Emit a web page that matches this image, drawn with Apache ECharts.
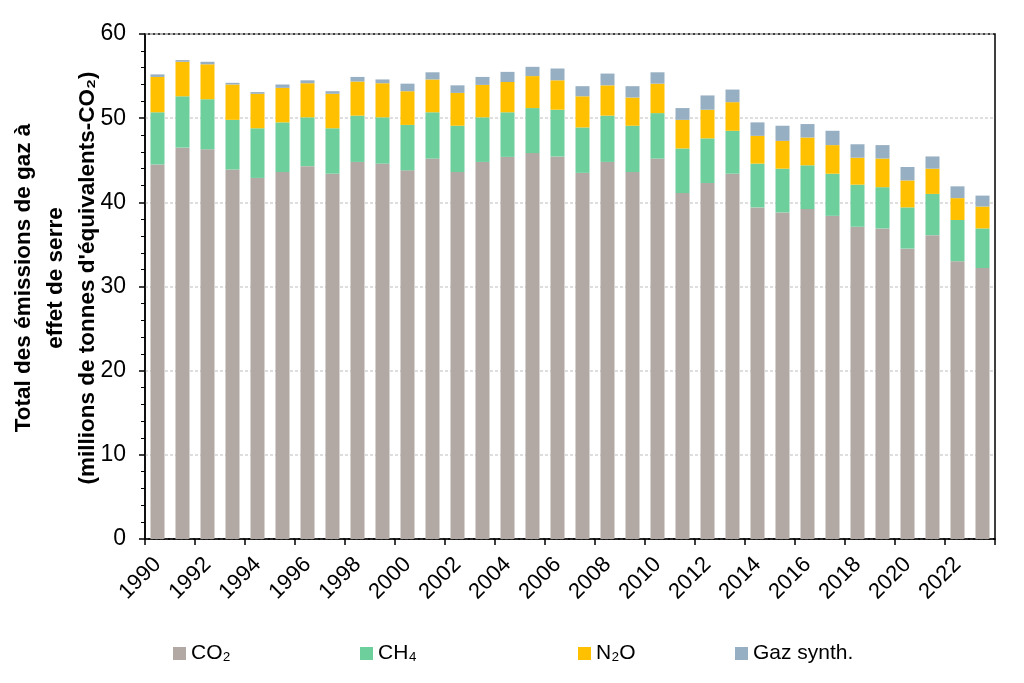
<!DOCTYPE html>
<html>
<head>
<meta charset="utf-8">
<script src="https://cdn.jsdelivr.net/npm/echarts@6/dist/echarts.min.js"></script>
<style>html,body{margin:0;padding:0;background:#fff}#c{width:1024px;height:683px}</style>
</head>
<body>
<div id="c"></div>
<script>
const years = ['1990','1991','1992','1993','1994','1995','1996','1997','1998','1999','2000','2001','2002','2003','2004','2005','2006','2007','2008','2009','2010','2011','2012','2013','2014','2015','2016','2017','2018','2019','2020','2021','2022','2023'];
const co2 = [44.5,46.5,46.3,43.9,42.9,43.6,44.3,43.4,44.8,44.6,43.8,45.2,43.6,44.8,45.4,45.85,45.45,43.5,44.8,43.6,45.2,41.1,42.3,43.4,39.4,38.8,39.2,38.4,37.1,36.9,34.5,36.1,33.0,32.2];
const ch4 = [6.2,6.1,5.95,5.9,5.9,5.9,5.8,5.4,5.5,5.5,5.4,5.5,5.5,5.3,5.3,5.35,5.55,5.4,5.5,5.5,5.4,5.3,5.3,5.1,5.2,5.2,5.2,5.0,5.0,4.9,4.9,4.9,4.9,4.7];
const n2o = [4.2,4.1,4.15,4.2,4.1,4.1,4.05,4.1,4.05,4.05,4.0,3.9,3.9,3.85,3.6,3.8,3.5,3.7,3.6,3.35,3.5,3.4,3.4,3.4,3.3,3.3,3.3,3.4,3.2,3.4,3.2,3.0,2.6,2.6];
const gaz = [0.3,0.2,0.3,0.2,0.2,0.4,0.35,0.3,0.55,0.45,0.9,0.85,0.9,0.95,1.2,1.1,1.4,1.2,1.4,1.35,1.35,1.4,1.7,1.5,1.6,1.8,1.6,1.7,1.6,1.6,1.6,1.45,1.4,1.3];
const seriesNames = ['CO₂','CH₄','N₂O','Gaz synth.'];
const yTicks = {min:0, max:60, interval:10};
const yTitle = "Total des émissions de gaz à\neffet de serre\n(millions de tonnes d'équivalents-CO₂)";

const colors = ['#b2a9a4','#6ccf9c','#ffc000','#97afc2'];
const font = 'Liberation Sans, Arial, sans-serif';
const chart = echarts.init(document.getElementById('c'));
const data = [co2, ch4, n2o, gaz];
const legendLefts = [168, 355, 573, 730];
chart.setOption({
  animation:false,
  textStyle:{fontFamily:font},
  grid:{left:145, right:29, top:34, bottom:144, show:true, borderColor:'#000', borderWidth:1.5, backgroundColor:'transparent'},
  graphic:[{
    type:'text', x:56, y:278, rotation:Math.PI/2,
    style:{text:yTitle, font:'bold 22.5px Liberation Sans, Arial, sans-serif', fill:'#000', align:'center', verticalAlign:'middle', lineHeight:32}
  }],
  legend: seriesNames.map((n,i)=>({
    data:[n], left:legendLefts[i], top:638, itemWidth:13, itemHeight:13, icon:'rect',
    textStyle:{fontSize:21, color:'#000', fontFamily:font}, itemGap:6
  })),
  xAxis:{
    type:'category', data:years,
    axisLine:{lineStyle:{color:'#000', width:1.5}},
    axisTick:{show:true, length:6, lineStyle:{color:'#000', width:1.5}},
    axisLabel:{interval:1, rotate:45, fontSize:22, color:'#000', margin:22, fontFamily:font}
  },
  yAxis:{
    type:'value', min:yTicks.min, max:yTicks.max, interval:yTicks.interval,
    axisLine:{show:true, lineStyle:{color:'#000', width:1.5}},
    axisTick:{show:true, length:6, lineStyle:{color:'#000', width:1.5}},
    minorTick:{show:true, splitNumber:5, length:4, lineStyle:{color:'#000', width:1}},
    axisLabel:{fontSize:23, color:'#000', margin:19, fontFamily:font},
    splitLine:{show:true, lineStyle:{color:'#d4d4d4', type:[3,2], width:1.5}}
  },
  series: seriesNames.map((n,i)=>({
    name:n, type:'bar', stack:'total', data:data[i], barCategoryGap:'44%',
    itemStyle:{color:colors[i]}
  }))
});
</script>
</body>
</html>
